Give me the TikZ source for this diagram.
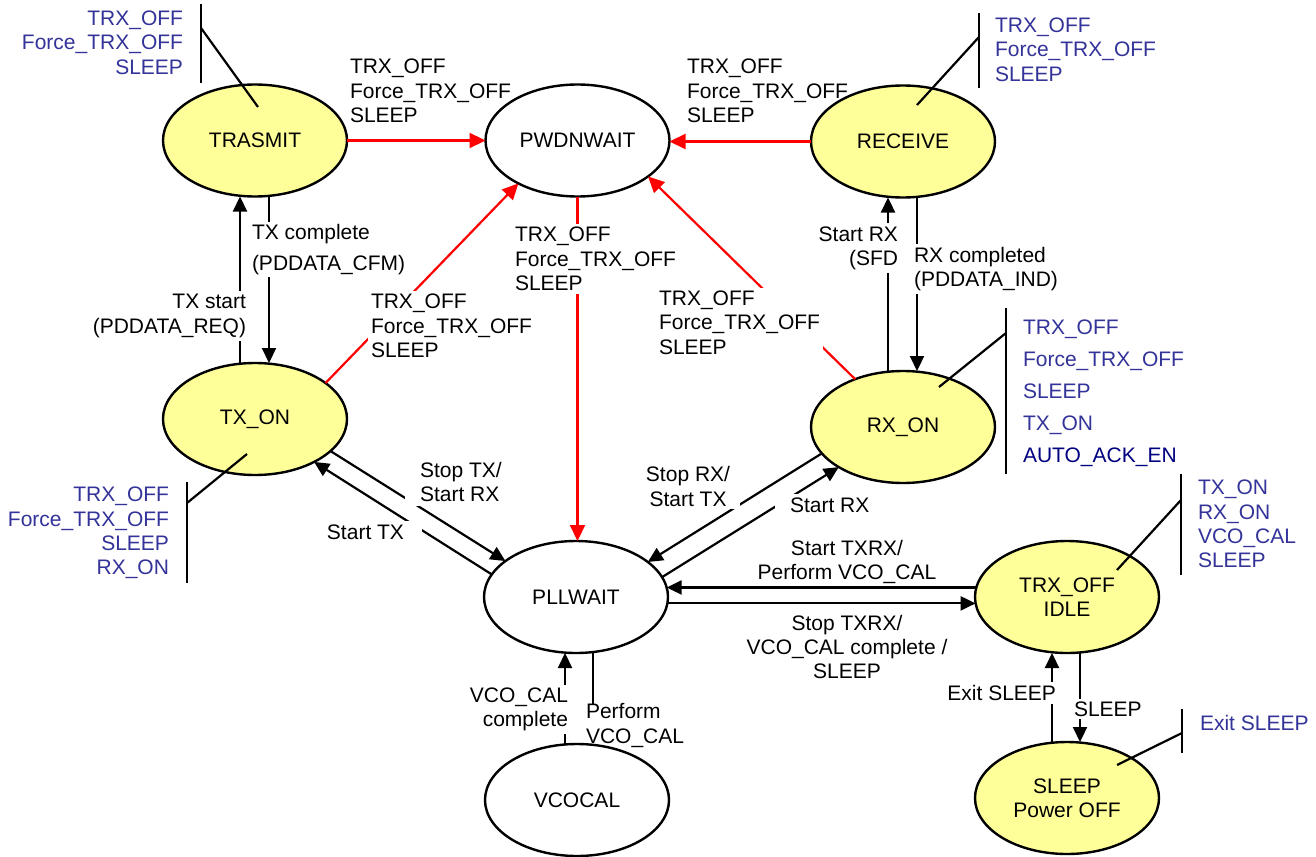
\documentclass[tikz,border=0pt]{standalone}
\usepackage{fontspec}
\setmainfont{Liberation Sans}
\usetikzlibrary{arrows.meta,calc,shapes.geometric}
\definecolor{stateyellow}{HTML}{FFFF99}
\definecolor{cmdblue}{HTML}{333399}
\definecolor{ackblue}{HTML}{000080}
\definecolor{pwrred}{HTML}{FF0000}
\begin{document}
\begin{tikzpicture}[x=1pt,y=-1pt,
  every node/.style={font=\fontsize{21}{24.3}\selectfont, outer sep=0pt},
  state/.style={ellipse, draw=black, line width=2.4pt, minimum width=184pt,
    minimum height=112pt, inner sep=0pt, align=center},
  active/.style={state, fill=stateyellow},
  passive/.style={state, fill=white},
  arr/.style={line width=2.2pt, -{Triangle[length=15pt,width=14pt]}},
  redarr/.style={line width=2.2pt, pwrred, -{Triangle[length=16pt,width=15pt]}},
  plain/.style={line width=2.2pt},
  lbl/.style={inner sep=0pt},
  cover/.style={fill=white, inner sep=3pt},
  cmd/.style={text=cmdblue, inner sep=0pt},
]
\fill[white] (0,0) rectangle (1316,856);
\useasboundingbox (0,0) rectangle (1316,856);

% ---- states ----
\node[active]  (trasmit) at (255,140.5) {TRASMIT};
\node[passive] (pwd)     at (577.5,140.5) {PWDNWAIT};
\node[active]  (receive) at (903,141.5) {RECEIVE};
\node[active]  (txon)    at (255,419) {TX\_ON};
\node[active]  (rxon)    at (903,427) {RX\_ON};
\node[passive] (pll)     at (576,597) {PLLWAIT};
\node[active]  (trxoff)  at (1067,597) {TRX\_OFF\\IDLE};
\node[passive] (vco)     at (577,800) {VCOCAL};
\node[active]  (sleep)   at (1067,798) {SLEEP\\Power OFF};

% ---- power-down transitions ----
\draw[redarr] (trasmit.east) -- (pwd.west);
\draw[redarr] (receive.west) -- (receive.west -| pwd.east);
\draw[redarr] (pwd.south) -- (pll.north -| pwd.south);
\draw[redarr] (txon.27) -- (pwd.216);
\draw[redarr] (rxon.135) -- (pwd.-27);

% ---- vertical pairs ----
\draw[arr] ([xshift=-15pt]txon.north) -- ([xshift=-15pt]trasmit.south);
\draw[arr] ([xshift=14pt]trasmit.south) -- ([xshift=14pt]txon.north);
\draw[arr] ([xshift=-15pt]rxon.north) -- ([xshift=-15pt]receive.south);
\draw[arr] ([xshift=14pt]receive.south) -- ([xshift=14pt]rxon.north);
\draw[arr] ([xshift=-15pt]sleep.north) -- ([xshift=-15pt]trxoff.south);
\draw[arr] ([xshift=13pt]trxoff.south) -- ([xshift=13pt]sleep.north);
\draw[arr] ([xshift=-12pt]vco.north) -- ([xshift=-12pt]vco.north |- pll.south);

% ---- PLLWAIT links ----
\draw[arr] (txon.-23) -- (pll.153);
\draw[arr] (pll.165) -- (txon.-36);
\draw[arr] (rxon.198) -- (pll.26);
\draw[arr] (pll.13) -- (rxon.212);
\draw[arr] (trxoff.174) -- (pll.6);
\draw[arr] (pll.-4) -- (trxoff.184);

% ---- command brackets ----
\coordinate (t1a) at (201,4);    \coordinate (t1b) at (201,83);   \coordinate (t1k) at (201,28);
\coordinate (t2a) at (979,13);   \coordinate (t2b) at (979,88);   \coordinate (t2k) at (979,37);
\coordinate (t3a) at (187,482);  \coordinate (t3b) at (187,583);  \coordinate (t3k) at (187,503);
\coordinate (t4a) at (1006,308); \coordinate (t4b) at (1006,474); \coordinate (t4k) at (1006,333);
\coordinate (t5a) at (1181,474); \coordinate (t5b) at (1181,575); \coordinate (t5k) at (1181,500);
\coordinate (t6a) at (1182,709); \coordinate (t6b) at (1182,753); \coordinate (t6k) at (1182,733);
\draw[plain] (t1a) -- (t1b);  \draw[plain] ($(trasmit.center)+(3,-33.5)$) -- (t1k);
\draw[plain] (t2a) -- (t2b);  \draw[plain] ($(receive.center)+(14,-36.5)$) -- (t2k);
\draw[plain] (t3a) -- (t3b);  \draw[plain] ($(txon.center)+(-8,35)$) -- (t3k);
\draw[plain] (t4a) -- (t4b);  \draw[plain] ($(rxon.center)+(36,-40)$) -- (t4k);
\draw[plain] (t5a) -- (t5b);  \draw[plain] ($(trxoff.center)+(50,-27)$) -- (t5k);
\draw[plain] (t6a) -- (t6b);  \draw[plain] ($(sleep.center)+(50,-33)$) -- (t6k);

% ---- transition labels ----
\node[lbl, anchor=west, align=left] (l1) at (350,91) {TRX\_OFF\\Force\_TRX\_OFF\\SLEEP};
\node[lbl, anchor=west, align=left] (l2) at (687,91) {TRX\_OFF\\Force\_TRX\_OFF\\SLEEP};
\node[cover, anchor=west, align=left] (l5) at (512,259) {TRX\_OFF\\Force\_TRX\_OFF\\SLEEP};
\node[cover, anchor=west, align=left] (l3) at (368,326) {TRX\_OFF\\Force\_TRX\_OFF\\SLEEP};
\node[cover, anchor=west, align=left] (l4) at (656,322.5) {TRX\_OFF\\Force\_TRX\_OFF\\SLEEP};
\node[cover, anchor=west, align=left] (l6) at (249,249.5) {TX complete\\[6pt](PDDATA\_CFM)};
\node[cover, anchor=east, align=right] (l7) at (249,316) {TX start\\(PDDATA\_REQ)};
\node[cover, anchor=east, align=right] (l8) at (901,248) {Start RX\\(SFD};
\node[cover, anchor=west, align=left] (l9) at (911,269) {RX completed\\(PDDATA\_IND)};
\node[cover, anchor=west, align=left, inner xsep=15pt, inner ysep=4pt] (l10) at (405,482) {Stop TX/\\Start RX};
\node[cover, anchor=east, inner xsep=18pt, inner ysep=4pt] (l11) at (422,532) {Start TX};
\node[cover, align=center, inner xsep=10pt] (l12) at (688,486.5) {Stop RX/\\Start TX};
\node[cover, anchor=west, inner xsep=15pt, inner ysep=4pt] (l13) at (775,505) {Start RX};
\node[lbl, align=center] (l14) at (847,562) {Start TXRX/\\Perform VCO\_CAL};
\node[lbl, align=center] (l15) at (847,647) {Stop TXRX/\\VCO\_CAL complete /\\SLEEP};
\node[cover, anchor=east, align=right] (l16) at (571,709.5) {VCO\_CAL\\complete};
\node[lbl, anchor=west, align=left] (l17) at (586,725.5) {Perform\\VCO\_CAL};
\node[cover, anchor=east] (l18) at (1059,693) {Exit SLEEP};
\node[cover, anchor=west] (l19) at (1071,709) {SLEEP};
\draw[plain] ([xshift=17pt]pll.south) -- ([xshift=17pt]pll.south |- l17.north);

% ---- accepted commands per state ----
\node[cmd, anchor=east, align=right] (c1) at (183,42.5) {TRX\_OFF\\Force\_TRX\_OFF\\SLEEP};
\node[cmd, anchor=west, align=left] (c2) at (995,49.5) {TRX\_OFF\\Force\_TRX\_OFF\\SLEEP};
\node[cmd, anchor=east, align=right] (c3) at (169,533) {TRX\_OFF\\Force\_TRX\_OFF\\SLEEP\\RX\_ON};
\node[cmd, anchor=west, align=left, font=\fontsize{21}{32}\selectfont] (c4) at (1023,393.5)
  {TRX\_OFF\\Force\_TRX\_OFF\\SLEEP\\TX\_ON\\\textcolor{ackblue}{AUTO\_ACK\_EN}};
\node[cmd, anchor=west, align=left] (c5) at (1198,524) {TX\_ON\\RX\_ON\\VCO\_CAL\\SLEEP};
\node[cmd, anchor=west] (c6) at (1200,723) {Exit SLEEP};
\end{tikzpicture}
\end{document}
